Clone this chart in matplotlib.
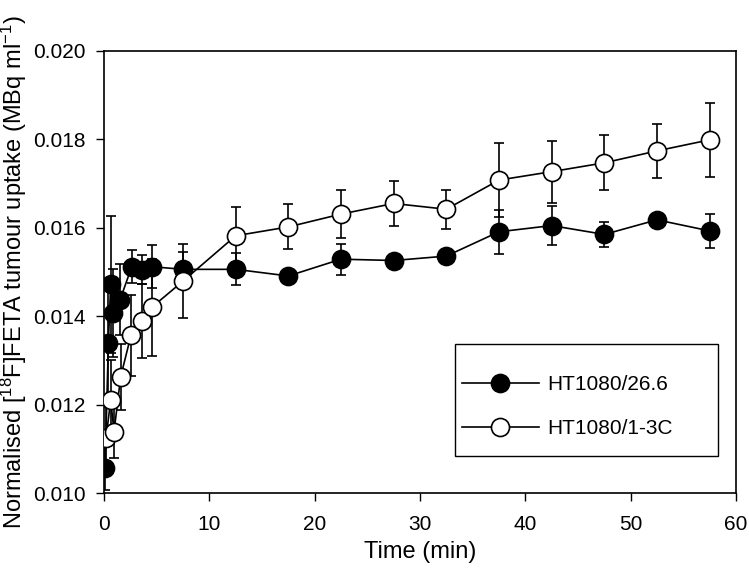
import numpy as np
import matplotlib.pyplot as plt
from matplotlib.patches import Rectangle

plt.rcParams['font.family'] = ['Liberation Sans', 'DejaVu Sans']
plt.rcParams['mathtext.default'] = 'regular'

# HT1080/26.6 (filled)
t_a = [0.1, 0.41, 0.63, 0.89, 1.52, 2.63, 3.58, 4.53, 7.53,
       12.5, 17.5, 22.5, 27.5, 32.5, 37.5, 42.5, 47.5, 52.5, 57.5]
v_a = [0.01056, 0.01339, 0.01472, 0.01407, 0.01437, 0.01512, 0.01505, 0.01512, 0.01506,
       0.01506, 0.01491, 0.01529, 0.01526, 0.01536, 0.01591, 0.01605, 0.01585, 0.01618, 0.01593]
e_a = [0.0005, 0.0012, 0.00155, 0.0010, 0.0008, 0.00038, 0.00033, 0.00048, 0.0004,
       0.00036, 0.0001, 0.00035, 0.0001, 0.0001, 0.0005, 0.00044, 0.00028, 0.0001, 0.00038]

# HT1080/1-3C (open)
t_b = [0.19, 0.63, 0.95, 1.58, 2.56, 3.58, 4.53, 7.53,
       12.5, 17.5, 22.5, 27.5, 32.5, 37.5, 42.5, 47.5, 52.5, 57.5]
v_b = [0.01124, 0.0121, 0.01139, 0.01263, 0.01357, 0.01389, 0.0142, 0.0148,
       0.01582, 0.01602, 0.01631, 0.01655, 0.01642, 0.01708, 0.01727, 0.01747, 0.01774, 0.01799]
e_b = [0.0007, 0.0009, 0.0006, 0.00075, 0.00092, 0.00083, 0.0011, 0.00083,
       0.00064, 0.00051, 0.00055, 0.0005, 0.00044, 0.00083, 0.0007, 0.00062, 0.00061, 0.00084]

fig = plt.figure(figsize=(7.49, 5.71), dpi=100)
ax = fig.add_axes([0.1389, 0.1366, 0.8437, 0.7741])

style = dict(color='black', lw=1.2, marker='o', ms=13, mec='black', mew=1.2)
ax.errorbar(t_a, v_a, yerr=e_a, fmt='none', ecolor='black', elinewidth=1.2,
            capsize=3.6, capthick=1.2, zorder=1)
ax.plot(t_a, v_a, mfc='black', label='HT1080/26.6', zorder=2, **style)
ax.errorbar(t_b, v_b, yerr=e_b, fmt='none', ecolor='black', elinewidth=1.2,
            capsize=3.6, capthick=1.2, zorder=3)
ax.plot(t_b, v_b, mfc='white', label='HT1080/1-3C', zorder=4, **style)

ax.set_xlim(0, 60)
ax.set_ylim(0.010, 0.020)
ax.set_xticks(np.arange(0, 61, 10))
ax.set_yticks(np.arange(0.010, 0.0201, 0.002))
ax.set_yticklabels(['%.3f' % v for v in np.arange(0.010, 0.0201, 0.002)])
ax.tick_params(direction='out', length=6, width=1, labelsize=15, top=False, right=False)
ax.tick_params(axis='x', pad=10)
ax.tick_params(axis='y', pad=7)
for s in ax.spines.values():
    s.set_linewidth(1.2)

ax.set_xlabel('Time (min)', fontsize=17, labelpad=5)
ax.set_ylabel('Normalised [$^{18}$F]FETA tumour uptake (MBq ml$^{-1}$)', fontsize=17, labelpad=3)

# legend box drawn by hand so padding can differ in x and y
ax.add_patch(Rectangle((0.555, 0.084), 0.416, 0.253, transform=ax.transAxes,
                       fill=True, facecolor='white', edgecolor='black', lw=1.0, zorder=5))
leg = ax.legend(loc='center left', bbox_to_anchor=(0.566, 0.196), fontsize=15,
                frameon=False, borderpad=0, borderaxespad=0, labelspacing=1.2,
                handlelength=3.7, handletextpad=0.4)
leg.set_zorder(6)

fig.savefig('out.png', dpi=100)
